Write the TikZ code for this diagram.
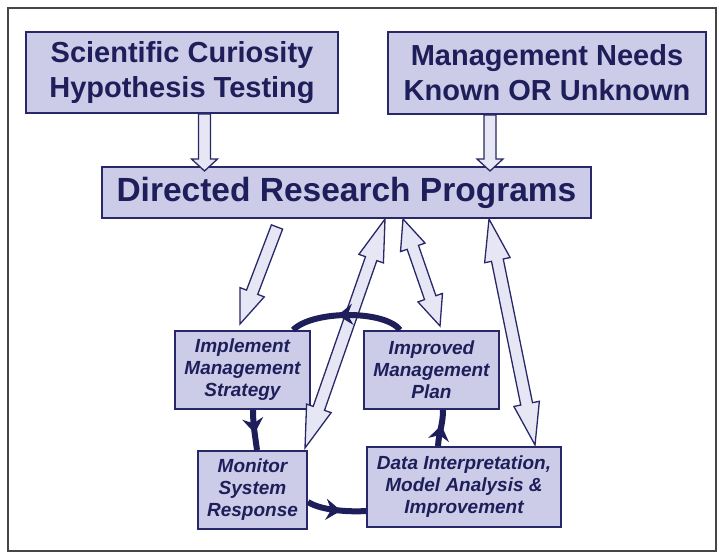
\documentclass[tikz,border=0pt]{standalone}
\usepackage{fontspec}
\setmainfont{Liberation Sans}
\usetikzlibrary{calc,arrows.meta,decorations.markings}

\definecolor{navy}{RGB}{30,30,90}
\definecolor{boxfill}{RGB}{204,204,232}
\definecolor{boxline}{RGB}{40,40,105}
\definecolor{arrowfill}{RGB}{230,230,244}
\definecolor{framegray}{RGB}{70,70,70}

\tikzset{
  box/.style={draw=boxline, fill=boxfill, line width=2pt, inner sep=0pt, align=center, text=navy},
  bigbox/.style={box, font=\fontsize{29}{35}\selectfont\bfseries},
  smallbox/.style={box, font=\fontsize{19}{22}\selectfont\bfseries\itshape},
  hollow/.style={draw=boxline, fill=arrowfill, line width=1.3pt, line join=miter},
  cyc/.style={draw=navy, line width=6pt, postaction={decorate},
    decoration={markings, mark=at position 0.58 with {\arrow{Stealth[length=15pt,width=21pt,inset=5pt]}}}}
}

\newcommand\hollowsingle[5]{% start, tip, shaft half width, head half width, head length
  \coordinate (hs-h) at ($(#2)!#5!(#1)$);
  \path[hollow] ($(#1)!#3!90:(#2)$) -- ($(hs-h)!#3!90:(#2)$) -- ($(hs-h)!#4!90:(#2)$) -- (#2)
    -- ($(hs-h)!#4!-90:(#2)$) -- ($(hs-h)!#3!-90:(#2)$) -- ($(#1)!#3!-90:(#2)$) -- cycle;
}
\newcommand\hollowdouble[5]{% end A, end B, shaft half width, head half width, head length
  \coordinate (hd-a) at ($(#1)!#5!(#2)$);
  \coordinate (hd-b) at ($(#2)!#5!(#1)$);
  \path[hollow] (#1) -- ($(hd-a)!#4!90:(#2)$) -- ($(hd-a)!#3!90:(#2)$) -- ($(hd-b)!#3!90:(#2)$)
    -- ($(hd-b)!#4!90:(#2)$) -- (#2) -- ($(hd-b)!#4!-90:(#2)$) -- ($(hd-b)!#3!-90:(#2)$)
    -- ($(hd-a)!#3!-90:(#2)$) -- ($(hd-a)!#4!-90:(#2)$) -- cycle;
}

\begin{document}
\begin{tikzpicture}[x=1pt,y=-1pt]
\useasboundingbox (0,0) rectangle (719,554);
\draw[framegray, line width=1.2pt] (8,8) rectangle (716,551);

\node[bigbox, minimum width=312pt, minimum height=81pt] (sci) at (182,72.5) {Scientific Curiosity\\Hypothesis Testing};
\node[bigbox, minimum width=318pt, minimum height=82pt] (mgmt) at (547,73) {Management Needs\\Known OR Unknown};
\node[box, font=\fontsize{33.5}{38}\selectfont\bfseries, minimum width=489pt, minimum height=51pt] (drp) at (346.5,192.5) {Directed Research Programs};
\node[smallbox, minimum width=135pt, minimum height=78pt] (impl) at (242.5,370) {Implement\\Management\\Strategy};
\node[smallbox, minimum width=135pt, minimum height=78pt] (imp) at (431.5,370) {Improved\\Management\\Plan};
\node[smallbox, minimum width=109pt, minimum height=78pt] (mon) at (252.5,490) {Monitor\\System\\Response};
\node[smallbox, minimum width=194pt, minimum height=80pt] (data) at (464,487) {Data Interpretation,\\Model Analysis \&\\Improvement};

\coordinate (a1s) at ($(sci.south)+(22.5,0)$);
\coordinate (a1e) at ($(a1s |- drp.north)+(0,5)$);
\coordinate (a2s) at ($(mgmt.south)+(-57,0)$);
\coordinate (a2e) at ($(a2s |- drp.north)+(0,5)$);
\coordinate (a3s) at ($(drp.south)+(-69.5,8)$);
\coordinate (a3e) at ($(impl.north)+(-2.5,-6)$);
\coordinate (a4s) at ($(drp.south)+(38.5,0)$);
\coordinate (a4e) at ($(mon.north east)+(-3,-2)$);
\coordinate (a5s) at ($(drp.south)+(56.5,0)$);
\coordinate (a5e) at ($(imp.north)+(8.5,-4)$);
\coordinate (a6s) at ($(drp.south)+(142.5,0)$);
\coordinate (a6e) at ($(data.north)+(71,-1)$);

\hollowsingle{a1s}{a1e}{6pt}{13pt}{12pt}
\hollowsingle{a2s}{a2e}{6pt}{13pt}{12pt}
\hollowsingle{a3s}{a3e}{6pt}{13pt}{34pt}
\hollowdouble{a4s}{a4e}{6pt}{13pt}{42pt}
\hollowdouble{a5s}{a5e}{6pt}{13pt}{30pt}
\hollowdouble{a6s}{a6e}{6pt}{13pt}{42pt}

\draw[cyc] ($(impl.south)+(10.5,0)$) .. controls +(0,15) and +(-2,-15) .. ($(mon.north)+(4.5,0)$);
\draw[cyc] ($(mon.east)+(0,12)$) .. controls +(14,9) and +(-14,1) .. ($(data.west)+(0,24)$);
\draw[cyc] ($(data.north)+(-26,0)$) .. controls +(1,-15) and +(0,15) .. ($(imp.south)+(11.5,0)$);
\draw[cyc] ($(imp.north)+(-31.5,0)$) .. controls +(-15,-20) and +(20,-20) .. ($(impl.north)+(50.5,0)$);
\end{tikzpicture}
\end{document}
